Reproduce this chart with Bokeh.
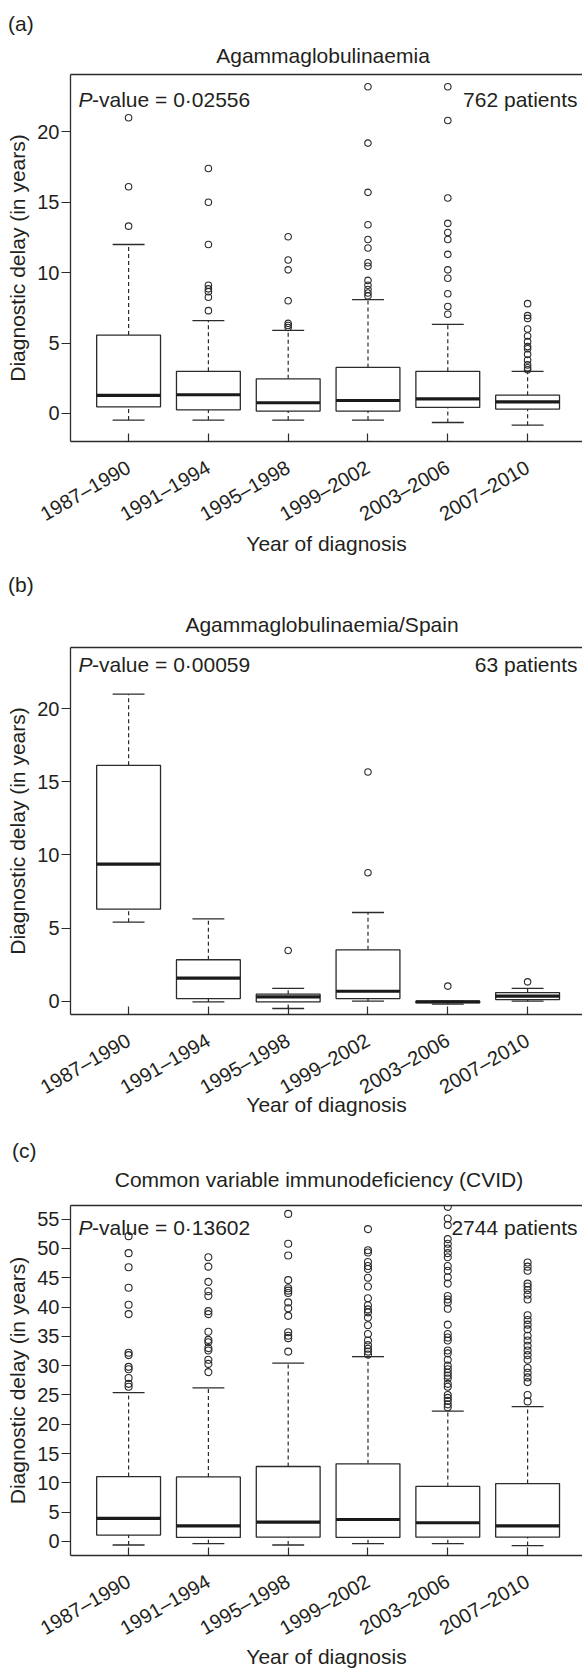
import math
from bokeh.plotting import figure
from bokeh.models import Range1d, FixedTicker, Label, ColumnDataSource, LinearAxis
from bokeh.layouts import column
from bokeh.embed import file_html
from bokeh.resources import INLINE

# ---------------- data ----------------
periods = ["1987–1990", "1991–1994", "1995–1998", "1999–2002", "2003–2006", "2007–2010"]

# (a) Agammaglobulinaemia
a_low = [-0.47, -0.47, -0.47, -0.47, -0.64, -0.83]
a_q1 = [0.47, 0.26, 0.17, 0.17, 0.43, 0.31]
a_med = [1.28, 1.33, 0.76, 0.92, 1.04, 0.83]
a_q3 = [5.57, 2.99, 2.46, 3.27, 2.99, 1.30]
a_high = [12.0, 6.59, 5.9, 8.08, 6.33, 2.99]
a_out = [
    [21.0, 16.1, 13.3],
    [17.4, 15.0, 12.0, 9.1, 8.85, 8.65, 8.25, 7.3],
    [12.55, 10.9, 10.2, 8.0, 6.4, 6.25, 6.1],
    [23.2, 19.2, 15.7, 13.4, 12.35, 11.75, 10.7, 10.45, 9.45, 9.1, 8.8, 8.55, 8.35],
    [23.2, 20.8, 15.3, 13.5, 12.85, 12.35, 11.3, 10.2, 9.6, 8.5, 7.6, 7.05],
    [7.8, 6.95, 6.75, 6.0, 5.5, 5.1, 4.75, 4.6, 4.2, 3.8, 3.45, 3.25, 3.1],
]
a_yticks = [0, 5, 10, 15, 20]

# (b) Agammaglobulinaemia/Spain
b_low = [5.40, -0.05, -0.50, 0.0, -0.20, 0.0]
b_q1 = [6.29, 0.18, -0.05, 0.18, -0.12, 0.11]
b_med = [9.37, 1.57, 0.30, 0.68, -0.04, 0.34]
b_q3 = [16.12, 2.83, 0.48, 3.51, 0.0, 0.59]
b_high = [20.98, 5.63, 0.87, 6.06, 0.0, 0.87]
b_out = [[], [], [3.46], [15.66, 8.78], [1.03], [1.32]]
b_yticks = [0, 5, 10, 15, 20]

# (c) CVID
c_low = [-0.6, -0.38, -0.6, -0.38, -0.38, -0.7]
c_q1 = [1.09, 0.7, 0.76, 0.7, 0.76, 0.76]
c_med = [3.96, 2.66, 3.31, 3.75, 3.2, 2.66]
c_q3 = [11.07, 11.02, 12.8, 13.25, 9.39, 9.88]
c_high = [25.4, 26.2, 30.45, 31.54, 22.26, 23.02]
c_out = [
    [52.1, 49.2, 46.8, 43.3, 40.4, 38.8, 32.2, 31.8, 29.8, 29.4, 27.9, 26.9, 26.4],
    [48.5, 46.9, 44.3, 42.7, 41.9, 39.3, 38.8, 35.8, 34.4, 34.0, 33.0, 32.6, 31.0, 30.3, 28.9],
    [55.9, 50.8, 48.8, 44.6, 43.2, 42.8, 42.4, 40.8, 39.8, 38.5, 35.7, 35.1, 34.7, 32.4],
    [53.3, 49.7, 49.3, 47.7, 47.0, 46.5, 45.0, 43.5, 41.5, 40.3, 39.6, 39.1, 38.2, 36.9,
     35.4, 34.3, 33.5, 32.9, 32.4, 31.9],
    [57.1, 55.1, 54.0, 51.6, 50.8, 50.0, 49.2, 48.5, 47.0, 46.2, 45.1, 44.0, 41.9, 41.3,
     40.8, 39.7, 37.0, 35.4, 34.8, 34.3, 32.6, 32.1, 31.0, 30.0, 29.4, 28.8, 28.3, 27.8,
     26.9, 26.4, 25.0, 24.5, 24.0, 23.4, 22.9],
    [47.6, 46.9, 46.2, 44.0, 43.5, 42.9, 42.1, 41.3, 38.6, 37.8, 37.0, 36.2, 35.1, 34.3,
     33.4, 32.6, 31.8, 31.0, 29.6, 28.8, 28.0, 27.2, 25.0, 23.9],
]
c_yticks = [0, 5, 10, 15, 20, 25, 30, 35, 40, 45, 50, 55]

# ---------------- style ----------------
FONT = "Liberation Sans"
TXT = "#231f20"
LN = "#2b2b2b"
W = 582
X_START, X_END = 0.272, 6.688


def lab(p, text, x, y, xo=0, yo=0, size="21px", align="left", style="normal"):
    p.add_layout(Label(x=x, y=y, x_offset=xo, y_offset=yo, text=text,
                       text_font=FONT, text_font_size=size, text_align=align,
                       text_baseline="alphabetic", text_font_style=style,
                       text_color=TXT))


def header(letter, title, height, lx, ly, tx, ty):
    """Strip above a panel holding the panel letter and the panel title (pixel units)."""
    h = figure(width=W, height=height, x_range=Range1d(0, W), y_range=Range1d(0, height),
               output_backend="svg", toolbar_location=None, x_axis_type=None,
               y_axis_type=None, min_border=0, min_border_left=0, min_border_right=0,
               min_border_top=0, min_border_bottom=0, outline_line_color=None,
               background_fill_color="white", border_fill_color="white",
               frame_align=False)
    h.grid.visible = False
    lab(h, letter, lx, height - ly)
    lab(h, title, tx, height - ty, align="center")
    return h


def panel(pval, npat, low, q1, med, q3, high, outs, yr, yticks, height, mbot, g):
    p = figure(width=W, height=height, x_range=Range1d(X_START, X_END),
               y_range=Range1d(*yr), output_backend="svg", toolbar_location=None,
               min_border_left=70, min_border_right=0, min_border_top=2,
               min_border_bottom=mbot, background_fill_color="white",
               border_fill_color="white", outline_line_color=None, frame_align=False)
    p.grid.visible = False

    xs = list(range(1, len(periods) + 1))
    src = ColumnDataSource(dict(x=xs, low=low, q1=q1, med=med, q3=q3, high=high,
                                xl=[x - 0.2 for x in xs], xr=[x + 0.2 for x in xs],
                                bl=[x - 0.4 for x in xs], br=[x + 0.4 for x in xs]))
    # whiskers
    p.segment(x0="x", y0="q3", x1="x", y1="high", source=src, line_color=LN,
              line_width=1.2, line_dash="4 3")
    p.segment(x0="x", y0="low", x1="x", y1="q1", source=src, line_color=LN,
              line_width=1.2, line_dash="4 3")
    # caps
    p.segment(x0="xl", y0="high", x1="xr", y1="high", source=src, line_color=LN, line_width=1.3)
    p.segment(x0="xl", y0="low", x1="xr", y1="low", source=src, line_color=LN, line_width=1.3)
    # boxes
    p.vbar(x="x", width=0.8, bottom="q1", top="q3", source=src, fill_color="white",
           line_color=LN, line_width=1.3)
    # medians
    p.segment(x0="bl", y0="med", x1="br", y1="med", source=src, line_color="#1a1a1a",
              line_width=3.2)
    # outliers
    ox, oy = [], []
    for i, vals in enumerate(outs):
        ox += [xs[i]] * len(vals)
        oy += vals
    p.scatter(ox, oy, marker="circle", size=g["osize"], fill_color=None,
              line_color=LN, line_width=1.1)

    # axes
    xa = p.xaxis[0]
    xa.ticker = FixedTicker(ticks=xs)
    xa.major_label_overrides = {x: s for x, s in zip(xs, periods)}
    xa.major_label_orientation = math.pi / 6
    xa.major_tick_in = 8
    xa.major_tick_out = 0
    xa.minor_tick_line_color = None
    xa.major_label_standoff = 24
    xa.major_label_text_font = FONT
    xa.major_label_text_font_size = "20px"
    xa.major_label_text_color = TXT
    xa.axis_line_color = LN
    xa.axis_line_width = 1.3
    xa.major_tick_line_color = LN
    xa.major_tick_line_width = 1.2
    xa.axis_label = "Year of diagnosis"
    xa.axis_label_text_font = FONT
    xa.axis_label_text_font_size = "21px"
    xa.axis_label_text_font_style = "normal"
    xa.axis_label_text_color = TXT
    xa.axis_label_standoff = g["xls"]

    ya = p.yaxis[0]
    ya.ticker = FixedTicker(ticks=yticks)
    ya.major_tick_in = 0
    ya.major_tick_out = 9
    ya.minor_tick_line_color = None
    ya.major_label_standoff = 2
    ya.major_label_text_font = FONT
    ya.major_label_text_font_size = "20px"
    ya.major_label_text_color = TXT
    ya.axis_line_color = LN
    ya.axis_line_width = 1.3
    ya.major_tick_line_color = LN
    ya.major_tick_line_width = 1.2
    ya.axis_label = "Diagnostic delay (in years)"
    ya.axis_label_text_font = FONT
    ya.axis_label_text_font_size = "21px"
    ya.axis_label_text_font_style = "normal"
    ya.axis_label_text_color = TXT
    ya.axis_label_standoff = 5

    # top border line of the box
    top = LinearAxis(ticker=FixedTicker(ticks=[]), major_tick_in=0, major_tick_out=0,
                     minor_tick_line_color=None, axis_line_color=LN, axis_line_width=1.3)
    p.add_layout(top, "above")

    y1 = yr[1]
    lab(p, "P", X_START, y1, 8, -g["pv"], style="italic")
    lab(p, "-value = " + pval, X_START, y1, 21.5, -g["pv"])
    lab(p, npat, X_END, y1, -5, -g["pv"], align="right")
    return p


ha = header("(a)", "Agammaglobulinaemia", 72, 7.5, 22.7, 322.5, 54.7)
pa = panel("0·02556", "762 patients",
           a_low, a_q1, a_med, a_q3, a_high, a_out, (-1.99, 24.07), a_yticks,
           490, 121, dict(pv=25.3, xls=-6, osize=6.5))
hb = header("(b)", "Agammaglobulinaemia/Spain", 83, 7.5, 21.5, 321.5, 61.5)
pb = panel("0·00059", "63 patients",
           b_low, b_q1, b_med, b_q3, b_high, b_out, (-0.91, 24.17), b_yticks,
           483, 114, dict(pv=16.6, xls=-18, osize=6.5))
hc = header("(c)", "Common variable immunodeficiency (CVID)", 75, 11.4, 21.5, 318.5, 50.5)
pc = panel("0·13602", "2744 patients",
           c_low, c_q1, c_med, c_q3, c_high, c_out, (-2.39, 57.33), c_yticks,
           467, 98, dict(pv=21.7, xls=-7, osize=7))

layout = column(ha, pa, hb, pb, hc, pc, spacing=0)
open("out.html", "w").write(file_html(layout, INLINE))
